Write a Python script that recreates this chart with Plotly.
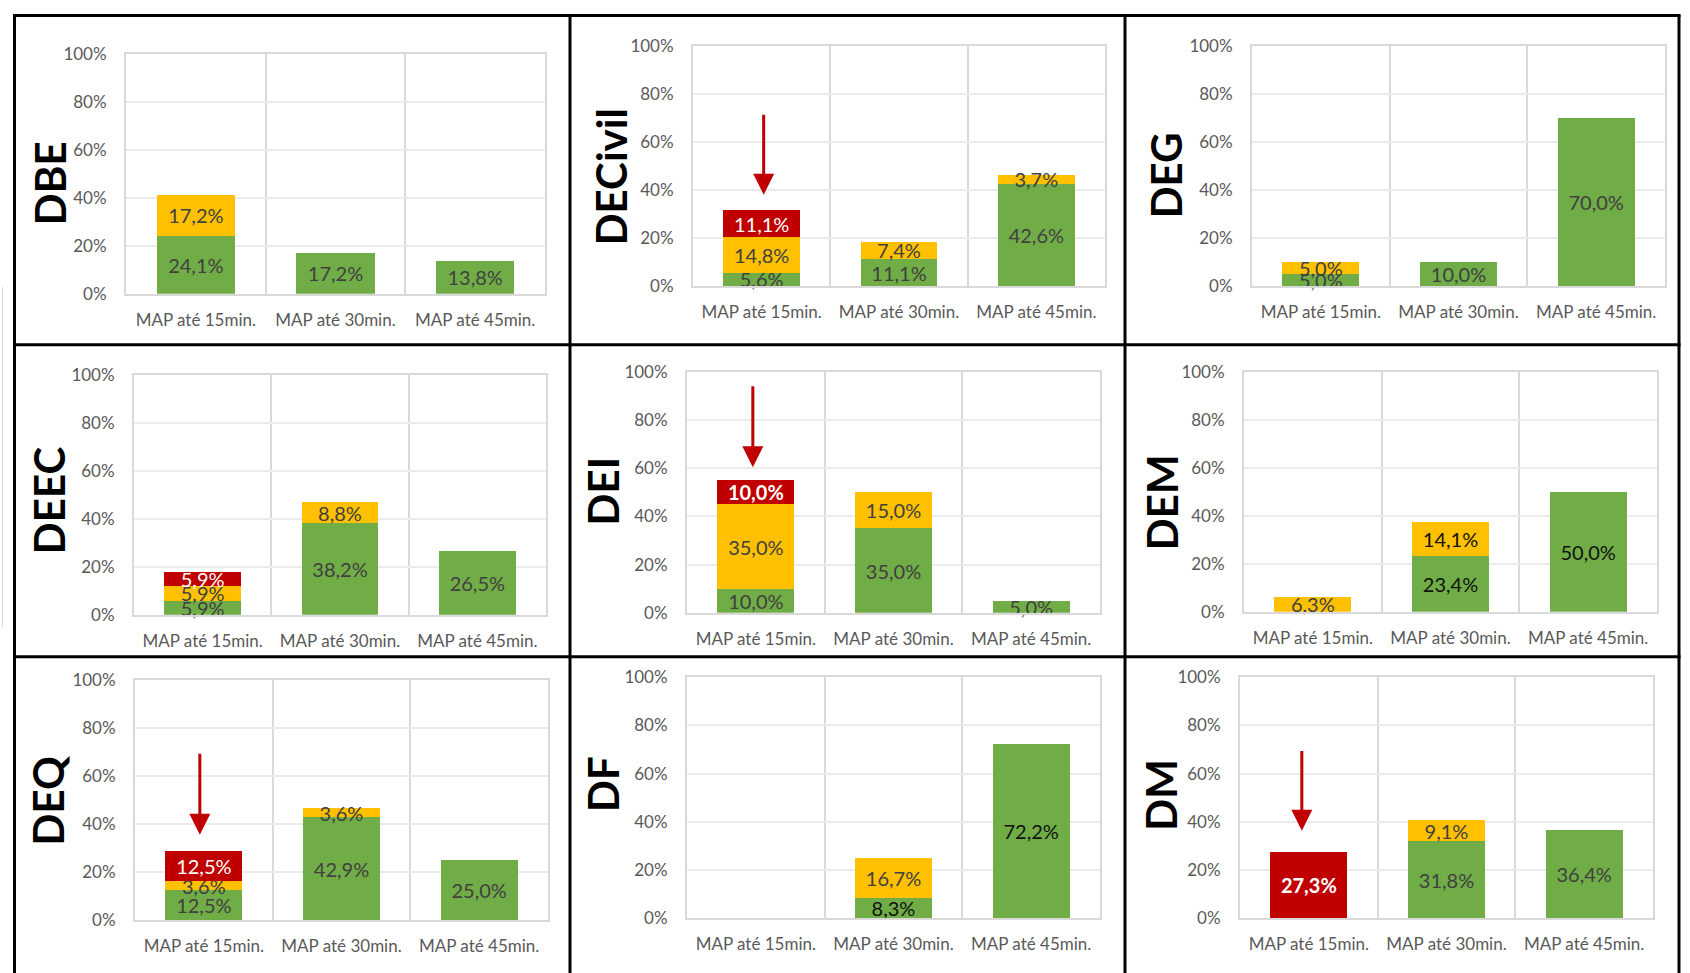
import plotly.graph_objects as go

W, H = 1690, 973

categories = ["MAP até 15min.", "MAP até 30min.", "MAP até 45min."]
departments = ["DBE", "DECivil", "DEG", "DEEC", "DEI", "DEM", "DEQ", "DF", "DM"]

# values in % (green = bottom, yellow = middle, red = top)
dbe_green = [24.1, 17.2, 13.8]
dbe_yellow = [17.2, 0, 0]
dbe_red = [0, 0, 0]

decivil_green = [5.6, 11.1, 42.6]
decivil_yellow = [14.8, 7.4, 3.7]
decivil_red = [11.1, 0, 0]

deg_green = [5.0, 10.0, 70.0]
deg_yellow = [5.0, 0, 0]
deg_red = [0, 0, 0]

deec_green = [5.9, 38.2, 26.5]
deec_yellow = [5.9, 8.8, 0]
deec_red = [5.9, 0, 0]

dei_green = [10.0, 35.0, 5.0]
dei_yellow = [35.0, 15.0, 0]
dei_red = [10.0, 0, 0]

dem_green = [0, 23.4, 50.0]
dem_yellow = [6.3, 14.1, 0]
dem_red = [0, 0, 0]

deq_green = [12.5, 42.9, 25.0]
deq_yellow = [3.6, 3.6, 0]
deq_red = [12.5, 0, 0]

df_green = [0, 8.3, 72.2]
df_yellow = [0, 16.7, 0]
df_red = [0, 0, 0]

dm_green = [0, 31.8, 36.4]
dm_yellow = [0, 9.1, 0]
dm_red = [27.3, 0, 0]

y_ticks = [0, 20, 40, 60, 80, 100]
y_tick_labels = ["0%", "20%", "40%", "60%", "80%", "100%"]

series = {
    "DBE": (dbe_green, dbe_yellow, dbe_red),
    "DECivil": (decivil_green, decivil_yellow, decivil_red),
    "DEG": (deg_green, deg_yellow, deg_red),
    "DEEC": (deec_green, deec_yellow, deec_red),
    "DEI": (dei_green, dei_yellow, dei_red),
    "DEM": (dem_green, dem_yellow, dem_red),
    "DEQ": (deq_green, deq_yellow, deq_red),
    "DF": (df_green, df_yellow, df_red),
    "DM": (dm_green, dm_yellow, dm_red),
}

# ---------- styling / layout (pixels) ----------
FONT = "Lato, 'Open Sans', sans-serif"
GREEN, YELLOW, RED = "#70ad47", "#ffc000", "#c00000"
LABEL_GRAY = "#404040"

# plot-area boxes: (left, top, right, bottom) in px
boxes = {
    "DBE": (126, 44, 545, 289),
    "DECivil": (693, 36, 1105, 281),
    "DEG": (1252, 36, 1665, 281),
    "DEEC": (134, 372, 546, 617),
    "DEI": (687, 369, 1100, 615),
    "DEM": (1244, 369, 1657, 614),
    "DEQ": (135, 684, 548, 929),
    "DF": (687, 681, 1100, 927),
    "DM": (1240, 681, 1653, 927),
}
title_pos = {
    "DBE": (50, 176), "DECivil": (611, 170), "DEG": (1166, 168),
    "DEEC": (49, 500), "DEI": (603, 491), "DEM": (1162, 502),
    "DEQ": (48, 808), "DF": (603, 790), "DM": (1161, 801),
}
# arrows: (tip value %, tail value %, xshift px)
arrows = {
    "DECivil": (38, 72, 2),
    "DEI": (60.4, 94.7, -3),
    "DEQ": (35.5, 70, -4),
    "DM": (36.2, 70, -7),
}
# label style overrides: (dept, layer, index) -> color / bold
black_labels = {("DEM", 0, 1), ("DEM", 0, 2), ("DEM", 1, 1), ("DF", 0, 1), ("DF", 0, 2)}
bold_labels = {("DEI", 2, 0), ("DM", 2, 0)}


def px_x(x):
    return x / W


def px_y(y):
    return 1 - y / H


def fmt(v):
    return f"{v:.1f}%".replace(".", ",")


fig = go.Figure()
layer_colors = [GREEN, YELLOW, RED]

for i, dept in enumerate(departments, start=1):
    sfx = "" if i == 1 else str(i)
    for layer, vals in enumerate(series[dept]):
        yv = [v if v else None for v in vals]
        texts, tcolors = [], []
        for k, v in enumerate(vals):
            if not v:
                texts.append("")
                tcolors.append(LABEL_GRAY)
                continue
            t = fmt(v)
            if (dept, layer, k) in bold_labels:
                t = f"<b>{t}</b>"
            texts.append(t)
            if layer == 2:
                tcolors.append("white")
            elif (dept, layer, k) in black_labels:
                tcolors.append("#111111")
            else:
                tcolors.append(LABEL_GRAY)
        fig.add_trace(go.Bar(
            x=categories, y=yv, text=texts,
            textposition="inside", insidetextanchor="middle", textangle=0,
            constraintext="none", cliponaxis=False,
            textfont=dict(family=FONT, size=20, color=tcolors),
            marker=dict(color=layer_colors[layer], line=dict(width=0)),
            xaxis="x" + sfx, yaxis="y" + sfx, showlegend=False, hoverinfo="skip",
        ))

    l, t, r, b = boxes[dept]
    fig.layout["xaxis" + sfx] = dict(
        domain=[px_x(l), px_x(r)], anchor="y" + sfx, type="category",
        categoryorder="array", categoryarray=categories,
        tickson="boundaries", showgrid=True, gridcolor="#d9d9d9", gridwidth=2,
        showline=True, mirror=True, linecolor="#d9d9d9", linewidth=2,
        ticks="", ticklabelstandoff=10,
        tickfont=dict(family=FONT, size=17, color="#595959"),
        fixedrange=True,
    )
    fig.layout["yaxis" + sfx] = dict(
        domain=[px_y(b), px_y(t)], anchor="x" + sfx,
        range=[0, 100], tickvals=y_ticks, ticktext=y_tick_labels,
        showgrid=True, gridcolor="#ebebeb", gridwidth=2, zeroline=False,
        showline=True, mirror=True, linecolor="#d9d9d9", linewidth=2,
        ticks="", ticklabelstandoff=14,
        tickfont=dict(family=FONT, size=17, color="#595959"),
        fixedrange=True,
    )

    tx, ty = title_pos[dept]
    fig.add_annotation(
        x=px_x(tx), y=px_y(ty), xref="paper", yref="paper", text=f"<b>{dept}</b>",
        textangle=-90, showarrow=False, xanchor="center", yanchor="middle",
        font=dict(family=FONT, size=42, color="black"),
    )

    if dept in arrows:
        tip, tail, xs = arrows[dept]
        fig.add_annotation(
            x=0, y=tip, ax=0, ay=tail, xref="x" + sfx, yref="y" + sfx,
            axref="x" + sfx, ayref="y" + sfx, text="", showarrow=True,
            arrowhead=2, arrowsize=1.4, arrowwidth=3, arrowcolor=RED,
            standoff=0, xshift=xs,
        )

# panel borders
border = dict(color="black", width=3)
shapes = [
    dict(type="line", xref="paper", yref="paper", x0=px_x(14.5), x1=px_x(14.5), y0=px_y(4), y1=px_y(990), line=border),
    dict(type="line", xref="paper", yref="paper", x0=px_x(1679), x1=px_x(1679), y0=px_y(4), y1=px_y(990), line=border),
    dict(type="line", xref="paper", yref="paper", x0=px_x(570), x1=px_x(570), y0=px_y(4), y1=px_y(990), line=border),
    dict(type="line", xref="paper", yref="paper", x0=px_x(1125), x1=px_x(1125), y0=px_y(4), y1=px_y(990), line=border),
    dict(type="line", xref="paper", yref="paper", x0=px_x(13), x1=px_x(1680.5), y0=px_y(4.5), y1=px_y(4.5), line=border),
    dict(type="line", xref="paper", yref="paper", x0=px_x(13), x1=px_x(1680.5), y0=px_y(341), y1=px_y(341), line=border),
    dict(type="line", xref="paper", yref="paper", x0=px_x(13), x1=px_x(1680.5), y0=px_y(660), y1=px_y(660), line=border),
    dict(type="line", xref="paper", yref="paper", x0=px_x(2.5), x1=px_x(2.5), y0=px_y(282), y1=px_y(630),
         line=dict(color="#d6d6d6", width=1)),
]

fig.update_layout(
    width=W, height=H, margin=dict(l=0, r=0, t=0, b=0),
    barmode="stack", bargap=0.44,
    plot_bgcolor="white", paper_bgcolor="white",
    shapes=shapes, showlegend=False,
    font=dict(family=FONT),
)

page_fix = (
    "var d=document.getElementById('{plot_id}');"
    "d.style.position='fixed';d.style.top='0px';d.style.left='0px';d.style.margin='0px';"
    "var h=document.documentElement,b=document.body;"
    "h.style.margin='0';h.style.padding='0';h.style.overflow='hidden';"
    "h.style.height='973px';h.style.width='1690px';"
    "b.style.margin='0';b.style.padding='0';b.style.overflow='hidden';"
    "b.style.height='973px';b.style.width='1690px';"
)

fig.write_html("out.html", config={"displayModeBar": False}, post_script=page_fix)
